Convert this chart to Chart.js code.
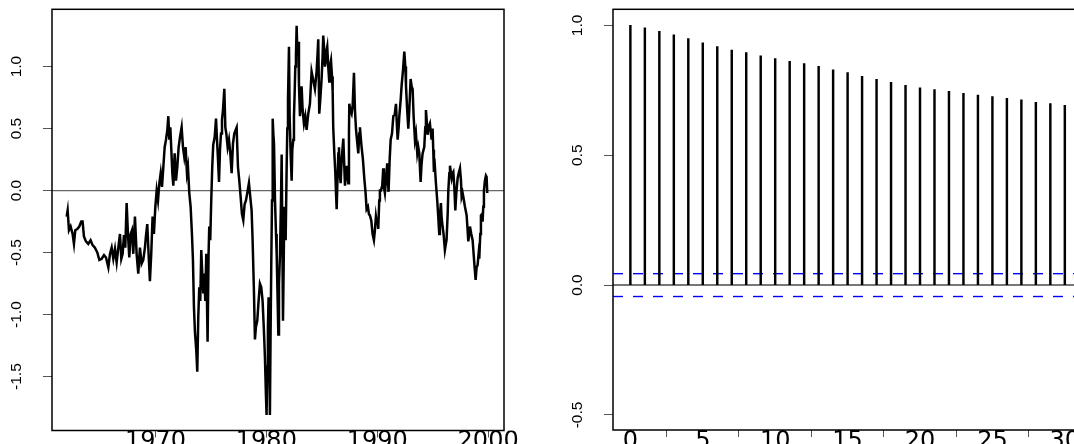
<!DOCTYPE html>
<html>
<head>
<meta charset="utf-8">
<script src="https://cdn.jsdelivr.net/npm/chart.js@4.4.1/dist/chart.umd.min.js"></script>
<style>
  html, body { margin: 0; padding: 0; background: #ffffff; overflow: hidden; width: 1074px; height: 444px; }
  #left { position: absolute; left: 0; top: 0; }
  #right { position: absolute; left: 540px; top: 0; }
</style>
</head>
<body>
<canvas id="left" width="540" height="444"></canvas>
<canvas id="right" width="560" height="444"></canvas>
<script>
// ---------- data: left panel (time series) ----------
const years = [
1961.99,1962.08,1962.20,1962.35,1962.53,1962.65,1962.77,1962.95,1963.13,1963.31,
1963.43,1963.55,1963.73,1963.94,1964.15,1964.33,1964.54,1964.76,1964.94,1965.15,
1965.36,1965.54,1965.75,1965.90,1966.05,1966.20,1966.35,1966.50,1966.65,1966.80,
1966.92,1967.04,1967.16,1967.28,1967.40,1967.52,1967.64,1967.76,1967.88,1968.00,
1968.15,1968.30,1968.45,1968.60,1968.75,1968.90,1969.05,1969.14,1969.26,1969.38,
1969.50,1969.62,1969.74,1969.86,1969.99,1970.11,1970.23,1970.35,1970.47,1970.59,
1970.71,1970.83,1970.95,1971.07,1971.16,1971.25,1971.34,1971.43,1971.52,1971.61,
1971.73,1971.85,1971.97,1972.09,1972.21,1972.36,1972.48,1972.60,1972.72,1972.84,
1972.93,1973.05,1973.17,1973.29,1973.38,1973.47,1973.56,1973.68,1973.77,1973.86,
1973.95,1974.04,1974.13,1974.22,1974.31,1974.40,1974.49,1974.58,1974.70,1974.79,
1974.85,1974.94,1975.03,1975.12,1975.21,1975.34,1975.46,1975.55,1975.64,1975.73,
1975.82,1975.91,1976.00,1976.09,1976.21,1976.30,1976.39,1976.51,1976.63,1976.75,
1976.87,1976.99,1977.11,1977.23,1977.32,1977.44,1977.56,1977.68,1977.80,1977.92,
1978.04,1978.16,1978.28,1978.43,1978.55,1978.67,1978.76,1978.88,1978.97,1979.06,
1979.18,1979.30,1979.42,1979.54,1979.66,1979.78,1979.87,1979.96,1980.02,1980.08,
1980.14,1980.20,1980.26,1980.32,1980.38,1980.44,1980.51,1980.57,1980.63,1980.69,
1980.78,1980.87,1980.93,1981.02,1981.08,1981.14,1981.23,1981.32,1981.38,1981.44,
1981.50,1981.56,1981.62,1981.68,1981.74,1981.83,1981.89,1981.95,1982.04,1982.10,
1982.19,1982.28,1982.34,1982.43,1982.49,1982.55,1982.61,1982.67,1982.73,1982.79,
1982.88,1982.94,1983.03,1983.12,1983.18,1983.27,1983.39,1983.51,1983.63,1983.78,
1983.93,1984.02,1984.08,1984.23,1984.38,1984.53,1984.62,1984.68,1984.77,1984.86,
1984.98,1985.07,1985.13,1985.22,1985.28,1985.37,1985.43,1985.49,1985.58,1985.67,
1985.73,1985.83,1985.92,1985.98,1986.03,1986.13,1986.22,1986.28,1986.34,1986.43,
1986.49,1986.55,1986.61,1986.70,1986.79,1986.88,1986.94,1987.03,1987.09,1987.18,
1987.24,1987.33,1987.39,1987.45,1987.48,1987.57,1987.69,1987.78,1987.90,1987.99,
1988.08,1988.17,1988.29,1988.38,1988.44,1988.53,1988.59,1988.71,1988.83,1988.95,
1989.04,1989.16,1989.25,1989.34,1989.46,1989.58,1989.70,1989.79,1989.88,1989.94,
1990.03,1990.09,1990.18,1990.24,1990.33,1990.45,1990.54,1990.60,1990.69,1990.78,
1990.90,1990.96,1991.02,1991.12,1991.21,1991.33,1991.45,1991.57,1991.69,1991.78,
1991.84,1991.93,1991.99,1992.11,1992.20,1992.32,1992.44,1992.53,1992.59,1992.68,
1992.80,1992.89,1993.01,1993.10,1993.19,1993.28,1993.40,1993.49,1993.61,1993.70,
1993.79,1993.91,1994.00,1994.09,1994.18,1994.24,1994.33,1994.39,1994.48,1994.54,
1994.63,1994.75,1994.84,1994.90,1994.99,1995.05,1995.11,1995.20,1995.29,1995.41,
1995.50,1995.59,1995.65,1995.74,1995.80,1995.89,1995.98,1996.10,1996.19,1996.25,
1996.35,1996.41,1996.50,1996.56,1996.65,1996.71,1996.80,1996.86,1996.95,1997.04,
1997.13,1997.25,1997.34,1997.46,1997.55,1997.61,1997.70,1997.76,1997.91,1998.06,
1998.15,1998.21,1998.30,1998.36,1998.48,1998.60,1998.69,1998.78,1998.87,1998.96,
1999.05,1999.14,1999.20,1999.29,1999.35,1999.44,1999.50,1999.56,1999.62,1999.71,
1999.80,1999.86,1999.92
];
const values = [
-0.21,-0.16,-0.32,-0.29,-0.35,-0.43,-0.32,-0.31,-0.29,-0.25,
-0.25,-0.37,-0.41,-0.43,-0.40,-0.44,-0.46,-0.50,-0.56,-0.55,
-0.52,-0.54,-0.62,-0.51,-0.46,-0.55,-0.47,-0.58,-0.46,-0.35,
-0.55,-0.51,-0.36,-0.46,-0.10,-0.35,-0.54,-0.35,-0.32,-0.51,
-0.21,-0.51,-0.67,-0.46,-0.59,-0.56,-0.46,-0.37,-0.27,-0.51,
-0.73,-0.51,-0.21,-0.35,-0.13,0.00,-0.08,0.06,0.14,0.03,
0.19,0.35,0.41,0.49,0.60,0.41,0.51,0.33,0.14,0.04,
0.30,0.08,0.19,0.35,0.43,0.51,0.35,0.27,0.35,0.14,
0.19,-0.02,-0.13,-0.35,-0.56,-0.94,-1.14,-1.29,-1.46,-1.02,
-0.78,-0.89,-0.48,-0.67,-0.83,-0.67,-0.89,-0.51,-1.22,-0.51,
-0.29,-0.40,-0.08,0.19,0.37,0.43,0.58,0.41,0.25,0.07,
0.33,0.46,0.57,0.65,0.82,0.51,0.46,0.35,0.41,0.30,
0.14,0.38,0.46,0.49,0.51,0.19,0.08,-0.05,-0.19,-0.24,
-0.11,-0.08,-0.02,0.06,-0.05,-0.16,-0.40,-0.81,-1.20,-1.10,
-1.05,-0.89,-0.75,-0.78,-0.89,-1.13,-1.34,-1.64,-1.81,-1.42,
-1.10,-0.86,-1.29,-1.81,-1.16,-0.62,-0.08,0.58,0.46,0.38,
-0.08,-0.35,-0.51,-0.89,-1.16,-0.75,-0.51,-0.08,0.29,-0.35,
-1.05,-0.62,-0.13,-0.35,-0.40,0.19,0.50,0.73,1.16,0.60,
0.30,0.08,0.33,0.41,0.60,0.78,1.00,1.09,1.33,1.13,
1.20,0.86,0.60,0.73,0.84,0.65,0.54,0.60,0.49,0.62,
0.70,0.86,0.96,0.89,0.82,0.96,1.11,1.22,0.62,0.73,
0.90,1.08,1.25,1.13,1.00,1.05,1.13,1.16,1.00,0.88,
1.00,1.05,0.92,0.80,0.51,0.30,0.14,-0.02,-0.15,0.14,
0.30,0.35,0.14,0.06,0.25,0.35,0.42,0.19,0.04,0.14,
0.20,0.11,0.06,0.46,0.70,0.65,0.62,0.68,0.95,0.65,
0.50,0.41,0.30,0.46,0.51,0.41,0.35,0.25,0.10,-0.02,
-0.15,-0.13,-0.19,-0.20,-0.24,-0.35,-0.40,-0.32,-0.21,-0.25,
-0.24,-0.31,-0.08,0.00,0.00,0.04,0.18,0.03,-0.02,0.08,
0.22,0.08,-0.01,0.25,0.41,0.46,0.60,0.61,0.70,0.51,
0.41,0.51,0.60,0.73,0.85,0.97,1.12,1.00,0.85,0.68,
0.50,0.65,0.90,0.84,0.82,0.60,0.41,0.46,0.30,0.35,
0.30,0.07,0.22,0.30,0.33,0.35,0.51,0.65,0.54,0.45,
0.51,0.54,0.46,0.41,0.50,0.33,0.15,0.19,0.06,-0.08,
-0.21,-0.35,-0.21,-0.10,-0.21,-0.29,-0.35,-0.48,-0.43,-0.40,
-0.19,0.00,0.14,0.20,0.14,0.10,0.14,0.15,0.03,-0.16,
-0.02,0.10,0.14,0.18,0.08,-0.05,-0.02,-0.05,-0.13,-0.20,
-0.32,-0.41,-0.35,-0.29,-0.35,-0.40,-0.51,-0.62,-0.72,-0.62,
-0.60,-0.51,-0.55,-0.35,-0.20,-0.19,-0.25,-0.13,0.00,0.08,
0.12,0.11,-0.02
];
const leftXTicks = [1970, 1980, 1990, 2000];
const leftXLabels = ['1970', '1980', '1990', '2000'];
const leftYTicks = [-1.5, -1.0, -0.5, 0.0, 0.5, 1.0];
const leftYLabels = ['-1.5', '-1.0', '-0.5', '0.0', '0.5', '1.0'];

// ---------- data: right panel (ACF) ----------
const lags = [0,1,2,3,4,5,6,7,8,9,10,11,12,13,14,15,16,17,18,19,20,21,22,23,24,25,26,27,28,29,30];
const acf = [1.000,0.991,0.977,0.964,0.949,0.933,0.918,0.905,0.895,0.883,
             0.872,0.862,0.853,0.842,0.829,0.818,0.804,0.792,0.781,0.769,
             0.760,0.753,0.746,0.738,0.732,0.726,0.719,0.713,0.704,0.699,0.692];
const ciBound = 0.044;
const rightXTicks = [0, 5, 10, 15, 20, 25, 30];
const rightXLabels = ['0', '5', '10', '15', '20', '25', '30'];
const rightYTicks = [-0.5, 0.0, 0.5, 1.0];
const rightYLabels = ['-0.5', '0.0', '0.5', '1.0'];

Chart.defaults.font.family = "'Liberation Sans', Arial, sans-serif";
Chart.defaults.color = '#000';

function labelFor(ticks, labels) {
  return function (v) {
    for (let i = 0; i < ticks.length; i++) if (Math.abs(ticks[i] - v) < 1e-9) return labels[i];
    return '';
  };
}

const boxPlugin = {
  id: 'box',
  afterDraw(chart) {
    const a = chart.chartArea, ctx = chart.ctx;
    ctx.save();
    ctx.strokeStyle = '#000';
    ctx.lineWidth = 1.5;
    ctx.strokeRect(a.left, a.top, a.right - a.left, a.bottom - a.top);
    ctx.restore();
  }
};

function noPad(s) { s.paddingTop = 0; s.paddingBottom = 0; s.paddingLeft = 0; s.paddingRight = 0; }

function xAxis(min, max, ticks, labels, height) {
  return {
    type: 'linear', min: min, max: max, offset: false,
    afterBuildTicks: s => { s.ticks = ticks.map(v => ({ value: v })); },
    afterFit: s => { s.height = height; noPad(s); },
    grid: { display: true, drawOnChartArea: false, drawTicks: true, tickLength: 7, color: '#555', lineWidth: 1 },
    border: { display: false },
    ticks: {
      autoSkip: false, maxRotation: 0, minRotation: 0, padding: -10,
      font: { family: "'DejaVu Sans'", size: 24 }, color: '#000',
      callback: labelFor(ticks, labels)
    }
  };
}
function yAxis(min, max, ticks, labels, width) {
  return {
    type: 'linear', min: min, max: max,
    afterBuildTicks: s => { s.ticks = ticks.map(v => ({ value: v })); },
    afterFit: s => { s.width = width; noPad(s); },
    grid: { display: true, drawOnChartArea: false, drawTicks: true, tickLength: 9, color: '#555', lineWidth: 1 },
    border: { display: false },
    ticks: {
      autoSkip: false, minRotation: 90, maxRotation: 90, crossAlign: 'center', padding: 12.5,
      font: { size: 15.5 }, color: '#000',
      callback: labelFor(ticks, labels)
    }
  };
}

// ---------- left chart ----------
const xMinL = 1960.67, xMaxL = 2001.43;
new Chart(document.getElementById('left'), {
  type: 'line',
  data: {
    datasets: [
      {
        data: years.map((t, i) => ({ x: t, y: values[i] })),
        borderColor: '#000', borderWidth: 2.5, pointRadius: 0, tension: 0, fill: false
      },
      {
        data: [{ x: xMinL, y: 0 }, { x: xMaxL, y: 0 }],
        borderColor: '#666', borderWidth: 1.2, pointRadius: 0, fill: false
      }
    ]
  },
  options: {
    responsive: false, animation: false, events: [],
    layout: { padding: { left: 0, right: 36, top: 9.3, bottom: 0 } },
    plugins: { legend: { display: false }, tooltip: { enabled: false } },
    scales: {
      x: xAxis(xMinL, xMaxL, leftXTicks, leftXLabels, 13.5),
      y: yAxis(-1.935, 1.462, leftYTicks, leftYLabels, 52)
    }
  },
  plugins: [boxPlugin]
});

// ---------- right chart ----------
const xMinR = -1.2, xMaxR = 31.2;
new Chart(document.getElementById('right'), {
  type: 'bar',
  data: {
    datasets: [
      {
        type: 'bar',
        data: lags.map((l, i) => ({ x: l, y: acf[i] })),
        backgroundColor: '#000', borderWidth: 0, barThickness: 1.8, grouped: false
      },
      {
        type: 'line',
        data: [{ x: xMinR, y: 0 }, { x: xMaxR, y: 0 }],
        borderColor: '#777', borderWidth: 2, pointRadius: 0, fill: false
      },
      {
        type: 'line',
        data: [{ x: xMinR, y: ciBound }, { x: xMaxR, y: ciBound }],
        borderColor: '#0000ff', borderWidth: 1.4, borderDash: [10, 10], pointRadius: 0, fill: false
      },
      {
        type: 'line',
        data: [{ x: xMinR, y: -ciBound }, { x: xMaxR, y: -ciBound }],
        borderColor: '#0000ff', borderWidth: 1.4, borderDash: [10, 10], pointRadius: 0, fill: false
      }
    ]
  },
  options: {
    responsive: false, animation: false, events: [],
    layout: { padding: { left: 0, right: 17.8, top: 9.3, bottom: 0 } },
    plugins: { legend: { display: false }, tooltip: { enabled: false } },
    scales: {
      x: xAxis(xMinR, xMaxR, rightXTicks, rightXLabels, 14),
      y: yAxis(-0.558, 1.062, rightYTicks, rightYLabels, 73)
    }
  },
  plugins: [boxPlugin]
});
</script>
</body>
</html>
